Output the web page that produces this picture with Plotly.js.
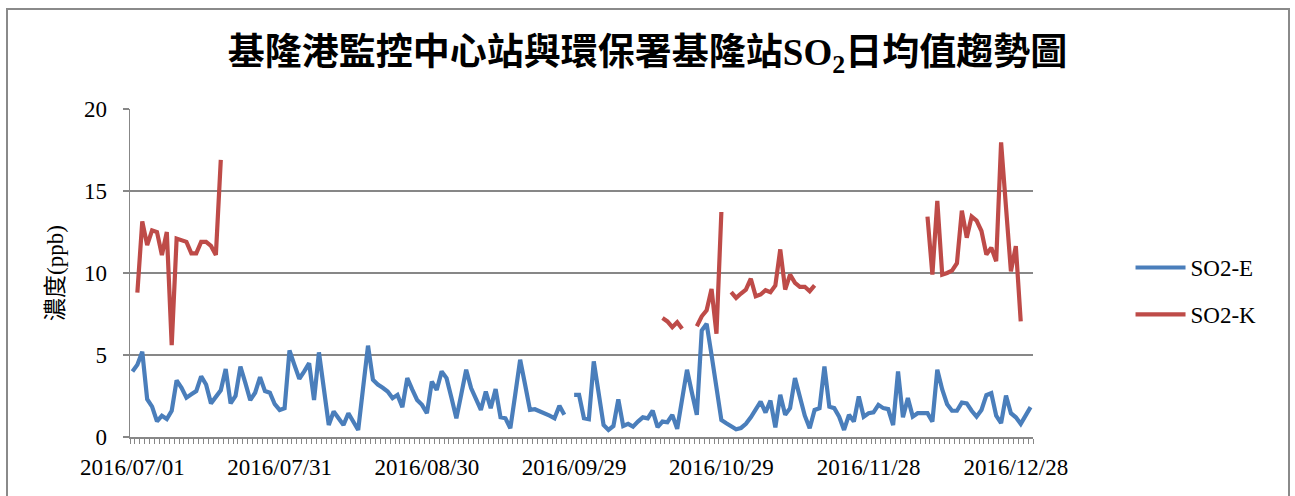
<!DOCTYPE html>
<html>
<head>
<meta charset="utf-8">
<script src="https://cdn.plot.ly/plotly-3.0.1.min.js"></script>
<style>
html,body{margin:0;padding:0;background:#fff;}
#chart{position:absolute;left:0;top:0;width:1295px;height:496px;}
#frame{position:absolute;left:6px;top:8px;width:1280px;height:500px;border:2px solid #8a8a8a;pointer-events:none;}
</style>
</head>
<body>
<div id="chart"></div>
<div id="frame"></div>
<script>
// First day of the series and tick labels
const startDate = '2016-07-01';
const tickLabels = ['2016/07/01','2016/07/31','2016/08/30','2016/09/29','2016/10/29','2016/11/28','2016/12/28'];
const seriesNames = ['SO2-E', 'SO2-K'];

// SO2-E (基隆港監控中心站) daily mean, 2016/07/01 .. 2016/12/31
const so2E = [
  4.0, 4.4, 5.2, 2.3, 1.85, 0.95, 1.3, 1.1, 1.6, 3.45,
  3.0, 2.4, 2.6, 2.8, 3.7, 3.2, 2.05, 2.45, 2.85, 4.15,
  2.05, 2.5, 4.3, 3.3, 2.25, 2.7, 3.65, 2.8, 2.7, 2.0,
  1.65, 1.75, 5.28, 4.4, 3.55, 4.0, 4.5, 2.26, 5.16, 2.95,
  0.73, 1.55, 1.1, 0.73, 1.45, 0.95, 0.43, 3.0, 5.57, 3.49,
  3.2, 3.0, 2.77, 2.37, 2.57, 1.82, 3.59, 2.9, 2.26, 1.96,
  1.45, 3.38, 2.87, 4.0, 3.59, 2.4, 1.14, 2.6, 4.1, 2.98,
  2.3, 1.65, 2.77, 1.76, 2.92, 1.2, 1.14, 0.53, 2.6, 4.71,
  3.2, 1.65, 1.69, 1.57, 1.45, 1.3, 1.14, 1.9, 1.35, null,
  2.57, 2.57, 1.14, 1.08, 4.61, 2.7, 0.73, 0.43, 0.67, 2.3,
  0.67, 0.8, 0.63, 0.94, 1.2, 1.14, 1.61, 0.6, 0.94, 0.9,
  1.35, 0.5, 2.3, 4.1, 2.7, 1.35, 6.5, 6.9, 5.0, 3.0,
  1.04, 0.84, 0.65, 0.47, 0.55, 0.8, 1.2, 1.7, 2.16, 1.49,
  2.22, 0.59, 2.57, 1.35, 1.76, 3.59, 2.4, 1.3, 0.53, 1.65,
  1.76, 4.3, 1.85, 1.76, 1.24, 0.43, 1.35, 0.94, 2.47, 1.24,
  1.45, 1.5, 1.96, 1.76, 1.7, 0.73, 4.0, 1.2, 2.37, 1.24,
  1.45, 1.45, 1.45, 0.94, 4.1, 2.9, 2.0, 1.6, 1.6, 2.1,
  2.05, 1.6, 1.24, 1.65, 2.55, 2.67, 1.3, 0.84, 2.53, 1.45,
  1.2, 0.8, 1.3, 1.82
];

// SO2-K (環保署基隆站) daily mean, reported in separate runs
const so2K_julStart = '2016-07-02';
const so2K_jul = [8.8, 13.15, 11.7, 12.6, 12.5, 11.1, 12.5, 5.6, 12.1, 12.0, 11.9, 11.2, 11.2, 11.9, 11.9, 11.65, 11.1, 16.9];
const so2K_octAStart = '2016-10-17';
const so2K_octA = [7.25, 7.05, 6.7, 7.0, 6.6];
const so2K_octBStart = '2016-10-24';
const so2K_octB = [6.75, 7.36, 7.73, 9.03, 6.3, 13.72];
const so2K_novStart = '2016-10-31';
const so2K_nov = [8.83, 8.48, 8.75, 8.99, 9.65, 8.58, 8.69, 8.95, 8.83, 9.24, 11.44, 8.99, 9.9, 9.4, 9.16, 9.16, 8.89, 9.24];
const so2K_decStart = '2016-12-10';
const so2K_dec = [13.44, 9.9, 14.39, 9.9, 10.0, 10.15, 10.6, 13.8, 12.15, 13.44, 13.2, 12.56, 11.13, 11.54, 10.72, 17.96, 14.0, 10.1, 11.64, 7.05];

const DAY = 86400000;
function toISO(t){ return new Date(t).toISOString().slice(0,10); }
const t0 = Date.parse(startDate + 'T00:00:00Z');
const dates = so2E.map((_, i) => toISO(t0 + i * DAY));

function dayIndex(d){ return Math.round((Date.parse(d + 'T00:00:00Z') - t0) / DAY); }
const so2K = dates.map(() => null);
[[so2K_julStart, so2K_jul], [so2K_octAStart, so2K_octA], [so2K_octBStart, so2K_octB],
 [so2K_novStart, so2K_nov], [so2K_decStart, so2K_dec]].forEach(([s, vals]) => {
  const k = dayIndex(s);
  vals.forEach((v, j) => { so2K[k + j] = v; });
});

const tickVals = tickLabels.map(s => s.replace(/\//g, '-'));

const grey = '#878787';
const serif = 'Liberation Serif, "Times New Roman", serif';
const cjk = 'Liberation Serif, "Noto Sans CJK TC", serif';

const traces = [
  {x: dates, y: so2E, name: seriesNames[0], type: 'scatter', mode: 'lines',
   line: {color: '#4A7EBB', width: 4.2, shape: 'linear'}, legendgroup: 'e', connectgaps: false},
  {x: dates, y: so2K, name: seriesNames[1], type: 'scatter', mode: 'lines',
   line: {color: '#BE4B48', width: 4.2, shape: 'linear'}, legendgroup: 'k', connectgaps: false}
];

const layout = {
  width: 1295, height: 496,
  margin: {l: 130, r: 262, t: 109, b: 59},
  paper_bgcolor: '#ffffff', plot_bgcolor: '#ffffff',
  showlegend: true,
  title: {
    text: '<b>基隆港監控中心站與環保署基隆站SO<sub>2</sub>日均值趨勢圖</b>',
    font: {family: cjk, size: 37, color: '#000'},
    x: 0.5, xref: 'container', xanchor: 'center',
    y: 0.895, yref: 'container', yanchor: 'middle'
  },
  xaxis: {
    type: 'date',
    range: ['2016-06-30 12:00', '2016-12-31 12:00'],
    tickmode: 'array', tickvals: tickVals, ticktext: tickLabels,
    ticks: '', showgrid: false, zeroline: false,
    showline: true, linecolor: grey, linewidth: 1.5,
    tickfont: {family: serif, size: 23, color: '#000'},
    ticklabelstandoff: 9,
    minor: {ticks: 'outside', dtick: DAY, tick0: '2016-06-30 12:00', ticklen: 5, tickwidth: 1, tickcolor: grey, showgrid: false}
  },
  yaxis: {
    range: [0, 20], dtick: 5, tick0: 0,
    showgrid: true, gridcolor: grey, gridwidth: 1.5,
    zeroline: false, showline: true, linecolor: grey, linewidth: 1.5,
    ticks: 'outside', ticklen: 6, tickwidth: 1.5, tickcolor: grey,
    tickfont: {family: serif, size: 23, color: '#000'},
    ticklabelstandoff: 11,
    title: {text: '濃度(ppb)', font: {family: cjk, size: 23, color: '#000'}, standoff: 14}
  },
  legend: {
    x: 1.108, xanchor: 'left', y: 0.445, yanchor: 'middle',
    font: {family: serif, size: 23, color: '#000'},
    tracegroupgap: 14, itemwidth: 50, bgcolor: 'rgba(0,0,0,0)'
  }
};

Plotly.newPlot('chart', traces, layout, {displayModeBar: false, staticPlot: true});
</script>
</body>
</html>
